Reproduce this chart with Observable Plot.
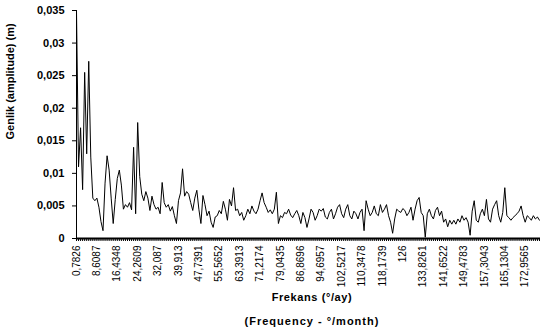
<!DOCTYPE html>
<html><head><meta charset="utf-8">
<script src="https://cdn.jsdelivr.net/npm/d3@7"></script>
<script src="https://cdn.jsdelivr.net/npm/@observablehq/plot@0.6"></script>
<style>
body{margin:0;background:#fff;font-family:"Liberation Sans",Arial,sans-serif;}
#wrap{width:540px;height:336px;position:relative;overflow:hidden}
.xt{position:absolute;left:80px;width:464px;text-align:center;font-weight:bold;font-size:11px;color:#000;letter-spacing:0.6px}
</style></head><body><div id="wrap"></div>
<script>
// Amplitude (m) for frequency index k = 1..228 (frequency = k * 0.7826 °/month)
const amplitude = [
0.035,0.011,0.017,0.0075,0.0255,0.013,0.0272,0.0125,0.0062,0.0058,
0.0062,0.0048,0.0026,0.0012,0.0085,0.0127,0.0105,0.0062,0.0023,0.006,
0.0092,0.0105,0.0082,0.0045,0.0052,0.0048,0.0055,0.0044,0.014,0.0038,
0.0178,0.0095,0.0068,0.0058,0.0072,0.0062,0.0043,0.0065,0.0052,0.0045,
0.0048,0.0038,0.0086,0.0055,0.0048,0.0052,0.0042,0.0049,0.0035,0.0023,
0.0058,0.007,0.0107,0.0065,0.0072,0.0068,0.0055,0.0043,0.0062,0.0074,
0.0045,0.0023,0.0066,0.0052,0.0035,0.0042,0.0025,0.0017,0.0033,0.0035,
0.0043,0.0038,0.0057,0.0045,0.0028,0.006,0.005,0.0078,0.0043,0.0045,
0.0035,0.004,0.0028,0.0035,0.0045,0.0038,0.005,0.0042,0.0038,0.0045,
0.0058,0.007,0.0055,0.0048,0.004,0.0044,0.0038,0.0045,0.0071,0.0023,
0.0035,0.0032,0.004,0.0038,0.0045,0.0036,0.0032,0.0038,0.0043,0.0035,
0.0023,0.004,0.0032,0.0017,0.003,0.0045,0.004,0.0028,0.0035,0.0045,
0.0042,0.0046,0.0033,0.003,0.004,0.0045,0.003,0.0038,0.0048,0.0052,
0.0038,0.0032,0.0045,0.0052,0.0035,0.003,0.0042,0.0038,0.003,0.004,
0.0045,0.0012,0.0058,0.0045,0.0035,0.004,0.005,0.0038,0.0035,0.0052,
0.004,0.0045,0.0052,0.0035,0.0025,0.0008,0.003,0.0045,0.0042,0.004,
0.0046,0.0043,0.0035,0.004,0.0048,0.0028,0.0045,0.0058,0.0063,0.004,
0.0035,0.0002,0.0038,0.0045,0.0035,0.003,0.0043,0.0048,0.0035,0.0042,
0.0025,0.003,0.0018,0.0028,0.0022,0.0028,0.0022,0.003,0.0025,0.0035,
0.0028,0.0032,0.0025,0.0005,0.0042,0.0058,0.0028,0.0025,0.0038,0.0045,
0.0035,0.006,0.003,0.0025,0.0045,0.0052,0.0058,0.0035,0.0025,0.004,
0.0078,0.0035,0.0032,0.0028,0.0032,0.0035,0.0038,0.0042,0.005,0.0035,
0.0025,0.0035,0.0032,0.0028,0.0035,0.003,0.0033,0.0028
];
const xTickLabels = ["0,7826","8,6087","16,4348","24,2609","32,087","39,913","47,7391","55,5652","63,3913","71,2174","79,0435","86,8696","94,6957","102,5217","110,3478","118,1739","126","133,8261","141,6522","149,4783","157,3043","165,1304","172,9565"];
const yTicks = [0,0.005,0.01,0.015,0.02,0.025,0.03,0.035];
const yTickLabels = ["0","0,005","0,01","0,015","0,02","0,025","0,03","0,035"];
const yTitle = "Genlik (amplitude) (m)";
const xTitle1 = "Frekans (°/ay)";
const xTitle2 = "(Frequency - °/month)";

const data = amplitude.map((v, i) => ({k: i + 1, v}));
const cats = data.map(d => d.k);

const plot = Plot.plot({
  width: 540, height: 290,
  marginLeft: 76, marginRight: 0, marginTop: 10, marginBottom: 52,
  style: {fontFamily: "'Liberation Sans', Arial, sans-serif", fontSize: "10px", background: "#fff", color: "#000"},
  x: {domain: [1, 228.5]},
  y: {domain: [0, 0.035]},
  marks: [
    Plot.axisY({ticks: yTicks, tickFormat: d => yTickLabels[yTicks.indexOf(d)], tickSize: 4, tickPadding: 8, fontWeight: "bold", fontSize: 11, label: null}),
    Plot.axisX({ticks: cats, tickSize: 3, tickPadding: 4, tickRotate: -90,
      tickFormat: d => (d - 1) % 10 === 0 ? xTickLabels[(d - 1) / 10] : "", label: null, fontSize: 10}),
    Plot.text([yTitle], {frameAnchor: "left", rotate: -90, dx: -66, dy: 15, fontWeight: "bold", fontSize: 11, fill: "#000", text: d => d}),
    Plot.ruleY([0], {strokeWidth: 2}),
    Plot.ruleX([1], {stroke: "#000"}),
    Plot.lineY(data, {x: "k", y: "v", stroke: "#000", strokeWidth: 1})
  ]
});
const wrap = document.getElementById("wrap");
wrap.appendChild(plot);
const t1 = document.createElement("div"); t1.className = "xt"; t1.style.top = "291px"; t1.textContent = xTitle1;
const t2 = document.createElement("div"); t2.className = "xt"; t2.style.top = "315px"; t2.style.letterSpacing = "1px"; t2.textContent = xTitle2;
wrap.appendChild(t1); wrap.appendChild(t2);
</script></body></html>
